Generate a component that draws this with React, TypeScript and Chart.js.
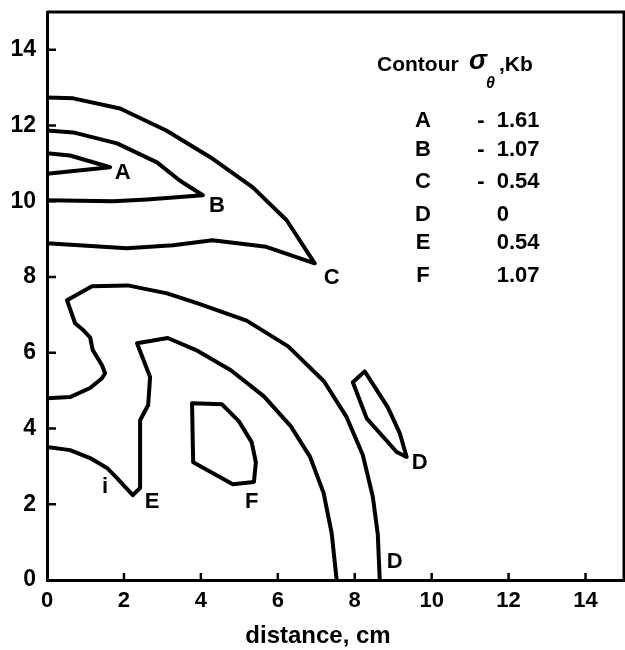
import React, { useEffect, useRef } from "react";
import { Chart, registerables } from "chart.js";

Chart.register(...registerables);

const X_TICKS = [0, 2, 4, 6, 8, 10, 12, 14];
const Y_TICKS = [0, 2, 4, 6, 8, 10, 12, 14];

// contour polylines, [distance cm, distance cm]
const CONTOUR_A: [number, number][] = [[0, 11.27], [0.6, 11.21], [1.64, 10.9], [0, 10.73]];
const CONTOUR_B: [number, number][] = [
  [0, 11.87], [0.68, 11.82], [1.82, 11.53], [2.86, 11.03], [3.45, 10.55], [4.05, 10.16],
  [2.6, 10.05], [1.72, 10.0], [0, 10.03],
];
const CONTOUR_C: [number, number][] = [
  [0, 12.74], [0.68, 12.72], [1.9, 12.45], [3.1, 11.87], [4.3, 11.13], [5.35, 10.37],
  [6.23, 9.5], [6.96, 8.36], [5.7, 8.8], [4.3, 8.97], [3.28, 8.84], [2.07, 8.76], [0, 8.89],
];
const CONTOUR_D: [number, number][] = [
  [0, 4.8], [0.6, 4.83], [1.12, 5.07], [1.43, 5.33], [1.51, 5.46], [1.43, 5.67], [1.19, 6.07],
  [1.12, 6.41], [0.94, 6.6], [0.73, 6.78], [0.52, 7.39], [1.17, 7.76], [2.1, 7.78], [3.12, 7.57],
  [3.9, 7.31], [5.19, 6.85], [6.27, 6.17], [7.2, 5.25], [7.79, 4.3], [8.21, 3.3], [8.47, 2.2],
  [8.6, 1.2], [8.65, 0],
];
const CONTOUR_D_ISLAND: [number, number][] = [
  [7.95, 5.22], [8.26, 5.51], [8.86, 4.56], [9.17, 3.88], [9.35, 3.25], [9.09, 3.38],
  [8.31, 4.27], [7.95, 5.22],
];
const CONTOUR_E: [number, number][] = [
  [0, 3.51], [0.6, 3.43], [1.12, 3.22], [1.56, 2.96], [1.82, 2.69], [2.23, 2.24], [2.42, 2.43],
  [2.42, 4.22], [2.63, 4.62], [2.68, 5.36], [2.34, 6.25], [3.14, 6.39], [3.92, 6.05],
  [4.78, 5.54], [5.64, 4.85], [6.33, 4.07], [6.84, 3.25], [7.19, 2.3], [7.4, 1.24], [7.53, 0],
];
const CONTOUR_F: [number, number][] = [
  [3.77, 4.67], [4.55, 4.64], [4.99, 4.19], [5.32, 3.64], [5.43, 3.11], [5.38, 2.59],
  [4.83, 2.53], [3.8, 3.11], [3.77, 4.67],
];

const CONTOURS = [CONTOUR_A, CONTOUR_B, CONTOUR_C, CONTOUR_D, CONTOUR_D_ISLAND, CONTOUR_E, CONTOUR_F];

// contour tags and where they sit (data coords)
const TAG_TEXT = ["A", "B", "C", "D", "D", "E", "F", "i"];
const TAG_AT: [number, number][] = [
  [1.97, 10.74], [4.42, 9.89], [7.4, 7.99], [9.69, 3.09], [9.04, 0.47], [2.73, 2.06], [5.32, 2.06], [1.51, 2.45],
];

const LEGEND_KEYS = ["A", "B", "C", "D", "E", "F"];
const LEGEND_VALUES = ["-1.61", "-1.07", "-0.54", "0", "0.54", "1.07"];

const X_TITLE = "distance, cm";

const FONT = "'Liberation Sans', Arial, sans-serif";

const overlay = {
  id: "overlay",
  afterDraw(chart: any) {
    const { ctx, chartArea, scales } = chart;
    const { left, top, right, bottom } = chartArea;
    const xs = scales.x;
    const ys = scales.y;
    ctx.save();
    ctx.strokeStyle = "#000";
    ctx.fillStyle = "#000";
    ctx.lineWidth = 3;
    ctx.beginPath();
    ctx.moveTo(left, top);
    ctx.lineTo(right, top);
    ctx.lineTo(right, bottom);
    ctx.stroke();
    // inward ticks
    ctx.lineWidth = 2.5;
    ctx.beginPath();
    Y_TICKS.forEach((v) => {
      if (v === 0) return;
      const py = ys.getPixelForValue(v);
      ctx.moveTo(left, py);
      ctx.lineTo(left + 9, py);
    });
    X_TICKS.forEach((v) => {
      if (v === 0) return;
      const px = xs.getPixelForValue(v);
      ctx.moveTo(px, bottom);
      ctx.lineTo(px, bottom - 7);
    });
    ctx.stroke();

    // tags
    ctx.font = `bold 22px ${FONT}`;
    ctx.textAlign = "center";
    ctx.textBaseline = "middle";
    TAG_TEXT.forEach((t, i) => {
      const [vx, vy] = TAG_AT[i];
      ctx.fillText(t, xs.getPixelForValue(vx), ys.getPixelForValue(vy));
    });

    // legend block
    ctx.textAlign = "left";
    ctx.font = `bold 21px ${FONT}`;
    ctx.fillText("Contour", left + 330, top + 53);
    ctx.font = `italic bold 27px ${FONT}`;
    ctx.fillText("σ", left + 422, top + 50);
    ctx.font = `italic bold 16px ${FONT}`;
    ctx.fillText("θ", left + 439, top + 72);
    ctx.font = `bold 21px ${FONT}`;
    ctx.fillText(",Kb", left + 452, top + 53);

    const rowY = [109, 138, 170, 203, 231, 264];
    ctx.font = `bold 22px ${FONT}`;
    LEGEND_KEYS.forEach((k, i) => {
      ctx.textAlign = "center";
      ctx.fillText(k, left + 376, top + rowY[i]);
      const val = LEGEND_VALUES[i];
      const dot = val.indexOf(".");
      const intPart = dot >= 0 ? val.slice(0, dot) : val;
      const frac = dot >= 0 ? val.slice(dot) : "";
      ctx.textAlign = "right";
      ctx.fillText(intPart.replace("-", "-  "), left + 462, top + rowY[i]);
      ctx.textAlign = "left";
      ctx.fillText(frac, left + 462, top + rowY[i]);
    });

    // x axis title
    ctx.font = `bold 24px ${FONT}`;
    ctx.textAlign = "center";
    ctx.textBaseline = "alphabetic";
    ctx.fillText(X_TITLE, left + 271, bottom + 63);
    ctx.restore();
  },
};

export default function App() {
  const ref = useRef<HTMLCanvasElement | null>(null);
  useEffect(() => {
    if (!ref.current) return;
    const chart = new Chart(ref.current, {
      type: "scatter",
      data: {
        datasets: CONTOURS.map((c) => ({
          data: c.map(([x, y]) => ({ x, y })),
          showLine: true,
          borderColor: "#000",
          backgroundColor: "#000",
          borderWidth: 4,
          pointRadius: 0,
          tension: 0,
          borderJoinStyle: "round" as const,
          borderCapStyle: "round" as const,
        })),
      },
      options: {
        responsive: false,
        animation: false,
        devicePixelRatio: 1,
        layout: { padding: { top: 12, right: 1, left: 0, bottom: 0 } },
        plugins: { legend: { display: false }, tooltip: { enabled: false } },
        scales: {
          x: {
            type: "linear",
            min: 0,
            max: 15,
            afterBuildTicks: (s: any) => {
              s.ticks = X_TICKS.map((v) => ({ value: v }));
            },
            afterFit: (s: any) => {
              s.height = 70;
              s.paddingLeft = 0;
              s.paddingRight = 0;
            },
            grid: { display: true, drawOnChartArea: false, drawTicks: false },
            border: { display: true, color: "#000", width: 3 },
            ticks: { color: "#000", padding: 8, font: { family: FONT, size: 22, weight: "bold" }, maxRotation: 0 },
          },
          y: {
            type: "linear",
            min: 0,
            max: 15,
            afterBuildTicks: (s: any) => {
              s.ticks = Y_TICKS.map((v) => ({ value: v }));
            },
            afterFit: (s: any) => {
              s.width = 47;
              s.paddingTop = 0;
              s.paddingBottom = 0;
            },
            grid: { display: true, drawOnChartArea: false, drawTicks: false },
            border: { display: true, color: "#000", width: 3 },
            ticks: { color: "#000", padding: 11, font: { family: FONT, size: 23, weight: "bold" } },
          },
        },
      },
      plugins: [overlay],
    });
    return () => chart.destroy();
  }, []);
  return (
    <div style={{ position: "fixed", left: 0, top: 0, width: 625, height: 650, background: "#fff" }}>
      <canvas ref={ref} width={625} height={650} />
    </div>
  );
}
